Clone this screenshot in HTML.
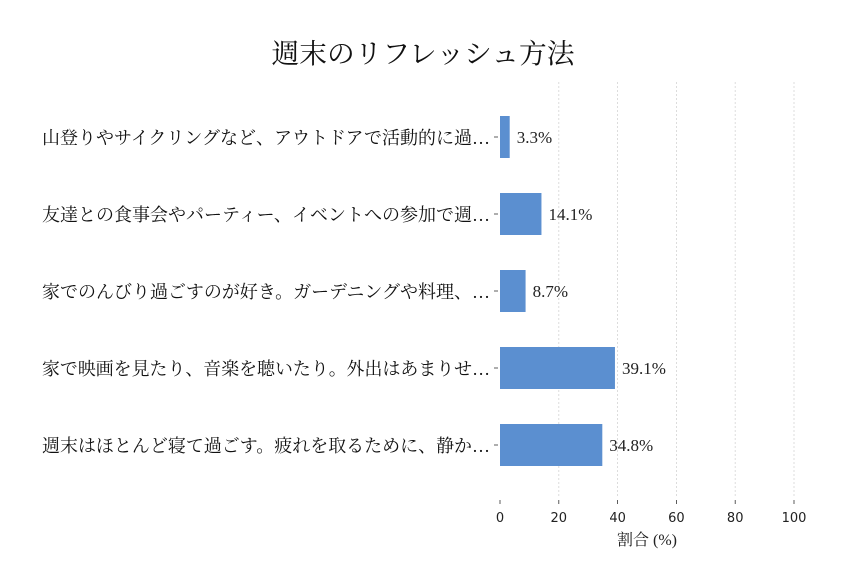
<!DOCTYPE html>
<html><head><meta charset="utf-8"><style>
body{margin:0;background:#fff}
svg{display:block}
</style></head><body>
<svg id="chart" width="846" height="588" xmlns="http://www.w3.org/2000/svg">
<rect width="846" height="588" fill="#fff"/>
<text x="423" y="63" text-anchor="middle" textLength="303" lengthAdjust="spacingAndGlyphs" font-family="'Liberation Serif','Noto Serif CJK SC',serif" font-size="27.5" fill="#111">週末のリフレッシュ方法</text>
<g id="grid"></g><g id="bars"></g><g id="labels"></g><g id="xaxis"></g>
<text x="647" y="545" text-anchor="middle" font-family="'Liberation Serif','Noto Serif CJK SC',serif" font-size="16" fill="#222">割合 (%)</text>
</svg>
<script>
const categories=["山登りやサイクリングなど、アウトドアで活動的に過…","友達との食事会やパーティー、イベントへの参加で週…","家でのんびり過ごすのが好き。ガーデニングや料理、…","家で映画を見たり、音楽を聴いたり。外出はあまりせ…","週末はほとんど寝て過ごす。疲れを取るために、静か…"];
const values=[3.3,14.1,8.7,39.1,34.8];
const ticks=[0,20,40,60,80,100];
const NS="http://www.w3.org/2000/svg";
const x=v=>500+v*2.94;
const y=i=>137+i*77;
function mk(t,a,p){const e=document.createElementNS(NS,t);for(const k in a)e.setAttribute(k,a[k]);p.appendChild(e);return e;}
const grid=document.getElementById('grid'),bars=document.getElementById('bars'),labels=document.getElementById('labels'),xa=document.getElementById('xaxis');
ticks.forEach(t=>{
 if(t>0){const g=mk('line',{x1:x(t),x2:x(t),y1:82,y2:496,stroke:'#d4d4d4','stroke-width':0.8,'stroke-dasharray':'2,2'},grid);
 
 }
 mk('line',{x1:x(t),x2:x(t),y1:500,y2:504,stroke:'#333','stroke-width':0.8},xa);
 const tl=mk('text',{x:x(t),y:522,'text-anchor':'middle','font-family':"'DejaVu Sans',sans-serif",'font-size':13,fill:'#222'},xa);
 tl.textContent=t;
 
 
});
categories.forEach((c,i)=>{
 const r=mk('rect',{x:x(0),y:y(i)-21,width:x(values[i])-x(0),height:42,fill:'#5b8fd0'},bars);
 
 
 const v=mk('text',{x:x(values[i])+7,y:y(i)+6,'font-family':"'Liberation Serif',serif",'font-size':17,fill:'#222'},bars);
 v.textContent=values[i].toFixed(1)+'%';
 
 
 mk('line',{x1:494,x2:498,y1:y(i),y2:y(i),stroke:'#333','stroke-width':0.8},labels);
 const l=mk('text',{x:42,y:y(i)+7,textLength:448,lengthAdjust:'spacingAndGlyphs','font-family':"'Liberation Serif','Noto Serif CJK JP',serif",'font-size':18,fill:'#111'},labels);
 l.textContent=c;
 
 
});
</script>
</body></html>
